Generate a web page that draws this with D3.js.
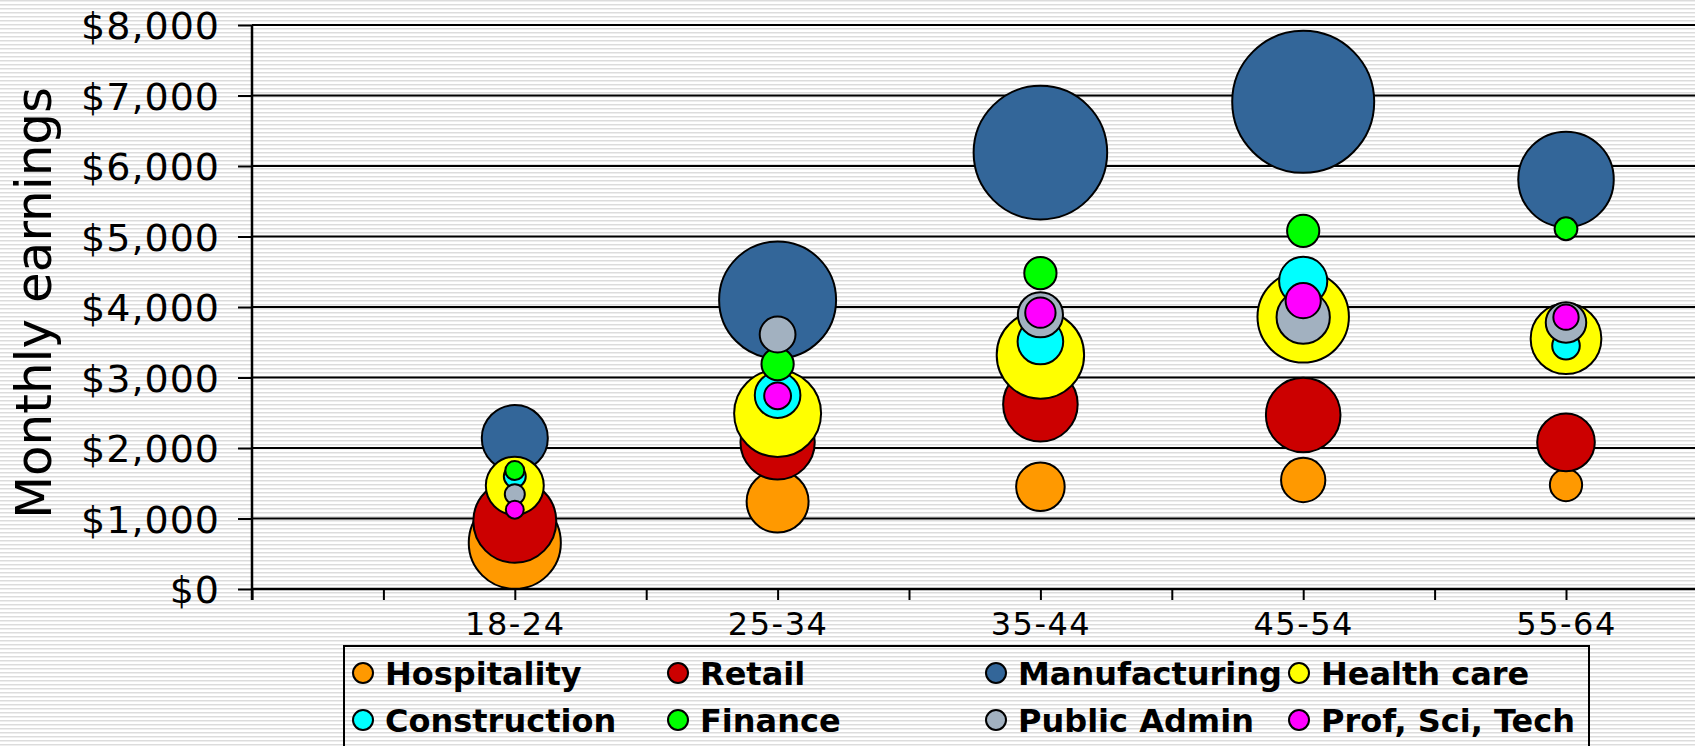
<!DOCTYPE html>
<html>
<head>
<meta charset="utf-8">
<script src="https://cdn.jsdelivr.net/npm/d3@7"></script>
<style>
  html, body { margin: 0; padding: 0; background: #fff; }
  svg { display: block; }
</style>
</head>
<body>
<svg id="chart" width="1695" height="746"></svg>
<script>
// ---------- data ----------
const categories = ["18-24", "25-34", "35-44", "45-54", "55-64"];
const seriesNames = ["Hospitality", "Retail", "Manufacturing", "Health care",
                     "Construction", "Finance", "Public Admin", "Prof, Sci, Tech"];
const seriesColors = ["#FF9900", "#CC0000", "#336699", "#FFFF00",
                      "#00FFFF", "#00FF00", "#A2B1C0", "#FF00FF"];

// monthly earnings per age group
const hospitalityEarnings   = [655, 1240, 1450, 1546, 1475];
const retailEarnings        = [960, 2080, 2620, 2468, 2080];
const manufacturingEarnings = [2140, 4100, 6190, 6910, 5810];
const healthEarnings        = [1465, 2490, 3320, 3860, 3550];
const constructionEarnings  = [1595, 2750, 3510, 4370, 3450];
const financeEarnings       = [1680, 3190, 4480, 5080, 5110];
const publicAdminEarnings   = [1345, 3610, 3890, 3855, 3780];
const profSciTechEarnings   = [1125, 2740, 3920, 4090, 3855];

// bubble sizes (relative employment)
const hospitalitySize   = [212, 96, 59, 49, 26];
const retailSize        = [172, 138, 139, 139, 83];
const manufacturingSize = [109, 342, 446, 504, 228];
const healthSize        = [84, 189, 191, 209, 125];
const constructionSize  = [12, 52, 52, 58, 19];
const financeSize       = [9, 26, 26, 26, 13];
const publicAdminSize   = [10, 32, 51, 71, 41];
const profSciTechSize   = [8, 18, 23, 31, 16];

const yTickValues = [0, 1000, 2000, 3000, 4000, 5000, 6000, 7000, 8000];

const earningsBySeries = [hospitalityEarnings, retailEarnings, manufacturingEarnings, healthEarnings,
                          constructionEarnings, financeEarnings, publicAdminEarnings, profSciTechEarnings];
const sizeBySeries = [hospitalitySize, retailSize, manufacturingSize, healthSize,
                      constructionSize, financeSize, publicAdminSize, profSciTechSize];

// ---------- layout ----------
const W = 1695, H = 746;
const svg = d3.select("#chart");
const defs = svg.append("defs");
const pat = defs.append("pattern").attr("id", "stripes")
  .attr("patternUnits", "userSpaceOnUse").attr("width", 8).attr("height", 4);
pat.append("rect").attr("width", 8).attr("height", 4).attr("fill", "#ffffff");
pat.append("rect").attr("y", 0).attr("width", 8).attr("height", 1).attr("fill", "#dcdcdc");
pat.append("rect").attr("y", 1).attr("width", 8).attr("height", 1).attr("fill", "#eeeeee");

svg.append("rect").attr("width", W).attr("height", H).attr("fill", "url(#stripes)");

const x0 = 252, unit = 262.8;
const x = d3.scaleLinear().domain([0, 5.5]).range([x0, x0 + 5.5 * unit]);
const y = d3.scaleLinear().domain([0, 8000]).range([589, 25]);
const r = d3.scaleSqrt().domain([0, 504]).range([0, 71]);

// gridlines
svg.append("g").selectAll("line").data(yTickValues.filter(d => d > 0)).join("line")
  .attr("x1", x0).attr("x2", W)
  .attr("y1", d => y(d)).attr("y2", d => y(d))
  .attr("stroke", "#000").attr("stroke-width", 2);

// y axis
const yAxis = svg.append("g").attr("transform", `translate(${x0},0)`)
  .call(d3.axisLeft(y).tickValues(yTickValues).tickSize(14).tickPadding(18)
        .tickFormat(d3.format("$,")));
yAxis.select(".domain").remove();
yAxis.selectAll(".tick line").attr("stroke", "#000").attr("stroke-width", 2);
yAxis.selectAll(".tick text")
  .attr("font-family", "'DejaVu Sans', Verdana, sans-serif")
  .attr("font-size", 38).attr("fill", "#000").attr("dy", "0.36em").attr("letter-spacing", 1);
svg.append("line").attr("x1", x0).attr("x2", x0).attr("y1", y(8000)).attr("y2", 600)
  .attr("stroke", "#000").attr("stroke-width", 2.5);

// x axis
const xAxis = svg.append("g").attr("transform", `translate(0,${y(0)})`)
  .call(d3.axisBottom(x).tickValues(d3.range(0, 5.51, 0.5)).tickSize(11).tickPadding(12)
        .tickFormat(d => (Number.isInteger(d) && d >= 1 && d <= 5) ? categories[d - 1] : ""));
xAxis.select(".domain").remove();
xAxis.selectAll(".tick line").attr("stroke", "#000").attr("stroke-width", 2);
xAxis.selectAll(".tick text")
  .attr("font-family", "'DejaVu Sans', Verdana, sans-serif")
  .attr("font-size", 32).attr("fill", "#000").attr("letter-spacing", 1.5);
svg.append("line").attr("x1", x0).attr("x2", W).attr("y1", y(0)).attr("y2", y(0))
  .attr("stroke", "#000").attr("stroke-width", 2.5);

// y title
svg.append("text")
  .attr("transform", "translate(51,303) rotate(-90)")
  .attr("text-anchor", "middle")
  .attr("font-family", "'DejaVu Sans', Verdana, sans-serif")
  .attr("font-size", 50).attr("fill", "#000")
  .text("Monthly earnings");

// bubbles, drawn series by series
const bubbleLayer = svg.append("g");
seriesNames.forEach((name, si) => {
  const pts = categories.map((c, ci) => ({ ci, v: earningsBySeries[si][ci], s: sizeBySeries[si][ci] }));
  bubbleLayer.append("g").selectAll("circle").data(pts).join("circle")
    .attr("cx", d => x(d.ci + 1))
    .attr("cy", d => y(d.v))
    .attr("r", d => r(d.s))
    .attr("fill", seriesColors[si])
    .attr("stroke", "#000").attr("stroke-width", 2);
});

// legend
const legend = svg.append("g");
legend.append("rect").attr("x", 344).attr("y", 646).attr("width", 1589 - 344).attr("height", 140)
  .attr("fill", "none").attr("stroke", "#000").attr("stroke-width", 2);
const colX = [363, 678, 996, 1299];
const rowY = [673, 720];
seriesNames.forEach((name, i) => {
  const cx = colX[i % 4], cy = rowY[Math.floor(i / 4)];
  legend.append("circle").attr("cx", cx).attr("cy", cy).attr("r", 10)
    .attr("fill", seriesColors[i]).attr("stroke", "#000").attr("stroke-width", 2);
  legend.append("text").attr("x", cx + 22).attr("y", cy + 11.7)
    .attr("font-family", "'DejaVu Sans', Verdana, sans-serif")
    .attr("font-weight", "bold").attr("font-size", 32).attr("fill", "#000")
    .text(name);
});
</script>
</body>
</html>
